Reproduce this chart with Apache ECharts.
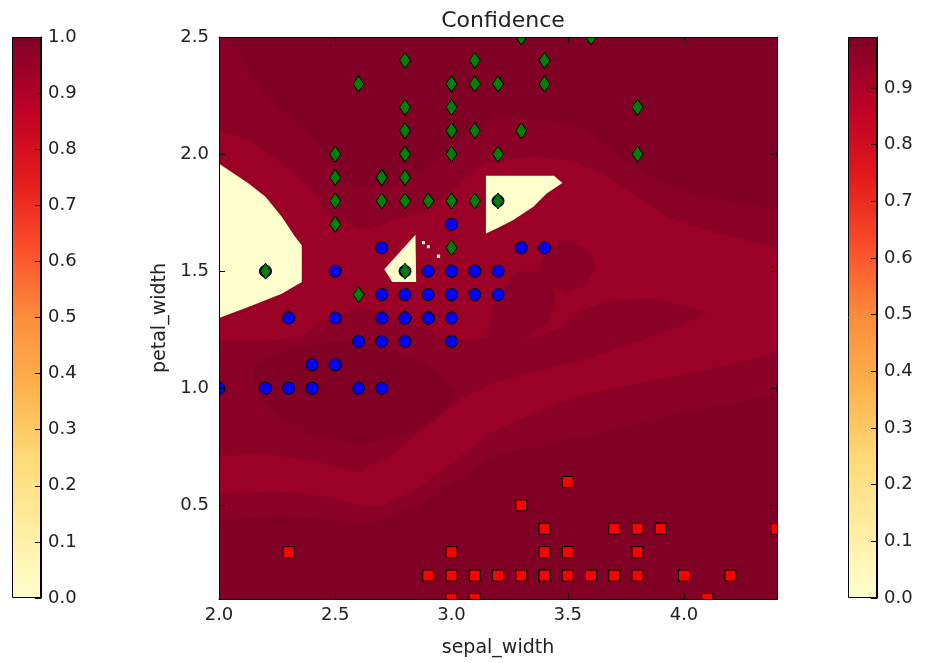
<!DOCTYPE html>
<html>
<head>
<meta charset="utf-8">
<script src="https://cdn.jsdelivr.net/npm/echarts@6/dist/echarts.min.js"></script>
<style>
  html, body { margin: 0; padding: 0; background: #fff; }
  #chart { width: 926px; height: 663px; }
</style>
</head>
<body>
<div id="chart"></div>
<script>
// axis ticks
const xTicks = [2.0, 2.5, 3.0, 3.5, 4.0];
const yTicks = [0.5, 1.0, 1.5, 2.0, 2.5];

// iris points [sepal_width, petal_width]
const setosa = [
  [3.5,0.2],[3.0,0.2],[3.2,0.2],[3.1,0.2],[3.6,0.2],[3.9,0.4],[3.4,0.3],[3.4,0.2],[2.9,0.2],[3.1,0.1],
  [3.7,0.2],[3.4,0.2],[3.0,0.1],[3.0,0.1],[4.0,0.2],[4.4,0.4],[3.9,0.4],[3.5,0.3],[3.8,0.3],[3.8,0.3],
  [3.4,0.2],[3.7,0.4],[3.6,0.2],[3.3,0.5],[3.4,0.2],[3.0,0.2],[3.4,0.4],[3.5,0.2],[3.4,0.2],[3.2,0.2],
  [3.1,0.2],[3.4,0.4],[4.1,0.1],[4.2,0.2],[3.1,0.1],[3.2,0.2],[3.5,0.2],[3.1,0.1],[3.0,0.2],[3.4,0.2],
  [3.5,0.3],[2.3,0.3],[3.2,0.2],[3.5,0.6],[3.8,0.4],[3.0,0.3],[3.8,0.2],[3.2,0.2],[3.7,0.2],[3.3,0.2]
];
const versicolor = [
  [3.2,1.4],[3.2,1.5],[3.1,1.5],[2.3,1.3],[2.8,1.5],[2.8,1.3],[3.3,1.6],[2.4,1.0],[2.9,1.3],[2.7,1.4],
  [2.0,1.0],[3.0,1.5],[2.2,1.0],[2.9,1.4],[2.9,1.3],[3.1,1.4],[3.0,1.5],[2.7,1.0],[2.2,1.5],[2.5,1.1],
  [3.2,1.8],[2.8,1.3],[2.5,1.5],[2.8,1.2],[2.9,1.3],[3.0,1.4],[2.8,1.4],[3.0,1.7],[2.9,1.5],[2.6,1.0],
  [2.4,1.1],[2.4,1.0],[2.7,1.2],[2.7,1.6],[3.0,1.5],[3.4,1.6],[3.1,1.5],[2.3,1.3],[3.0,1.3],[2.5,1.3],
  [2.6,1.2],[3.0,1.4],[2.6,1.2],[2.3,1.0],[2.7,1.3],[3.0,1.2],[2.9,1.3],[2.9,1.3],[2.5,1.1],[2.8,1.3]
];
const virginica = [
  [3.3,2.5],[2.7,1.9],[3.0,2.1],[2.9,1.8],[3.0,2.2],[3.0,2.1],[2.5,1.7],[2.9,1.8],[2.5,1.8],[3.6,2.5],
  [3.2,2.0],[2.7,1.9],[3.0,2.1],[2.5,2.0],[2.8,2.4],[3.2,2.3],[3.0,1.8],[3.8,2.2],[2.6,2.3],[2.2,1.5],
  [3.2,2.3],[2.8,2.0],[2.8,2.0],[2.7,1.8],[3.3,2.1],[3.2,1.8],[2.8,1.8],[3.0,1.8],[2.8,2.1],[3.0,1.6],
  [2.8,1.9],[3.8,2.0],[2.8,2.2],[2.8,1.5],[2.6,1.4],[3.0,2.3],[3.4,2.4],[3.1,1.8],[3.0,1.8],[3.1,2.1],
  [3.1,2.4],[3.1,2.3],[2.7,1.9],[3.2,2.3],[3.3,2.5],[3.0,2.3],[2.5,1.9],[3.0,2.0],[3.4,2.3],[3.0,1.8]
];

// confidence contour outlines [sepal_width, petal_width]
const midBand = [
  [2.0,2.5],[2.04,2.5],[2.2,2.245],[2.41,2.06],[2.47,1.96],[2.56,1.87],[2.7,1.86],[2.85,1.9],
  [2.95,1.98],[3.05,2.06],[3.19,2.16],[3.3,2.15],[3.45,2.14],[3.58,2.1],[3.7,2.0],[3.85,1.9],
  [4.07,1.82],[4.4,1.76],[4.4,0.98],[4.2,0.93],[4.0,0.9],[3.8,0.85],[3.6,0.8],[3.4,0.76],
  [3.2,0.72],[3.0,0.6],[2.85,0.5],[2.65,0.42],[2.45,0.44],[2.25,0.46],[2.0,0.43]
];
const lightBand = [
  [2.0,2.1],[2.13,2.06],[2.27,1.96],[2.4,1.85],[2.47,1.73],[2.63,1.675],[2.79,1.73],[2.9,1.76],
  [3.02,1.86],[3.14,1.96],[3.35,1.99],[3.52,1.97],[3.64,1.92],[3.93,1.73],[4.15,1.66],[4.4,1.6],
  [4.4,1.15],[4.2,1.1],[4.0,1.06],[3.8,1.02],[3.6,0.98],[3.45,0.93],[3.3,0.87],[3.15,0.8],
  [3.0,0.68],[2.85,0.57],[2.7,0.5],[2.6,0.5],[2.45,0.54],[2.25,0.56],[2.0,0.55],[2.0,0.71],
  [2.2,0.72],[2.4,0.69],[2.6,0.64],[2.75,0.72],[2.9,0.84],[3.05,0.96],[3.2,1.03],[3.4,1.08],
  [3.6,1.13],[3.8,1.2],[4.0,1.27],[4.1,1.32],[3.9,1.38],[3.7,1.38],[3.55,1.33],[3.45,1.25],
  [3.3,1.2],[3.15,1.22],[3.05,1.2],[2.9,1.25],[2.75,1.3],[2.6,1.35],[2.45,1.28],[2.35,1.22],
  [2.2,1.2],[2.0,1.2]
];
const midBlobA = [
  [3.38,1.52],[3.42,1.6],[3.5,1.63],[3.58,1.6],[3.62,1.52],[3.58,1.44],[3.5,1.41],[3.42,1.44]
];
const midBlobB = [
  [3.15,1.22],[3.2,1.4],[3.28,1.5],[3.4,1.5],[3.45,1.4],[3.42,1.28],[3.3,1.2]
];
const darkBlob = [
  [2.15,1.1],[2.3,1.17],[2.5,1.2],[2.7,1.18],[2.9,1.1],[3.02,0.98],[2.95,0.88],[2.8,0.8],
  [2.6,0.76],[2.4,0.8],[2.25,0.88],[2.15,1.0]
];
const paleLeft = [
  [2.0,1.96],[2.02,1.946],[2.126,1.875],[2.2,1.818],[2.27,1.732],[2.327,1.647],[2.356,1.611],
  [2.356,1.454],[2.27,1.404],[2.126,1.347],[2.0,1.3]
];
const paleMid = [[2.711,1.508],[2.845,1.656],[2.848,1.454],[2.745,1.454]];
const paleRight = [
  [3.148,1.907],[3.441,1.907],[3.477,1.877],[3.409,1.832],[3.352,1.775],[3.266,1.718],
  [3.194,1.682],[3.148,1.661]
];
const paleDots = [
  [[2.873,1.628],[2.886,1.628],[2.886,1.615],[2.873,1.615]],
  [[2.894,1.611],[2.907,1.611],[2.907,1.598],[2.894,1.598]],
  [[2.937,1.571],[2.951,1.571],[2.951,1.557],[2.937,1.557]]
];

const levelColor = { dark: '#800026', mid: '#8a0026', light: '#9b0026', pale: '#ffffcc' };
const contours = [
  ['mid', midBand], ['light', lightBand], ['mid', midBlobA], ['mid', midBlobB],
  ['dark', darkBlob], ['pale', paleLeft], ['pale', paleMid], ['pale', paleRight]
].concat(paleDots.map(d => ['pale', d]));

const ylorrd = [
  { offset: 0, color: '#800026' }, { offset: 0.125, color: '#bd0026' },
  { offset: 0.25, color: '#e31a1c' }, { offset: 0.375, color: '#fc4e2a' },
  { offset: 0.5, color: '#fd8d3c' }, { offset: 0.625, color: '#feb24c' },
  { offset: 0.75, color: '#fed976' }, { offset: 0.875, color: '#ffeda0' },
  { offset: 1, color: '#ffffcc' }
];
const leftBarMax = 1.0;
const rightBarMax = 0.99;

const chart = echarts.init(document.getElementById('chart'));
const txt = '#222';
const font = 'DejaVu Sans';

function plotAxis(pos, ticks, isX, withLabel) {
  const ax = {
    gridIndex: 0,
    type: 'value',
    position: pos,
    min: isX ? 2.0 : 0.1,
    max: isX ? 4.4 : 2.5,
    z: 10,
    axisLine: { show: true, onZero: false, lineStyle: { color: '#000', width: 1 } },
    axisTick: { show: true, inside: true, length: 6, customValues: ticks, lineStyle: { color: '#000' } },
    axisLabel: {
      show: withLabel, customValues: ticks, formatter: v => v.toFixed(1),
      fontSize: 18, color: txt, fontFamily: font, margin: isX ? 7 : 10
    },
    splitLine: { show: false }
  };
  return ax;
}

function barAxis(gridIndex, max) {
  return {
    gridIndex, type: 'value', position: 'right', min: 0, max, interval: 0.1, z: 10,
    axisLine: { show: true, lineStyle: { color: '#000' } },
    axisTick: { show: true, inside: true, length: 6, lineStyle: { color: '#000' } },
    axisLabel: {
      fontSize: 18, color: txt, fontFamily: font, margin: 7,
      showMaxLabel: max === 1.0, formatter: v => v.toFixed(1)
    },
    splitLine: { show: false }
  };
}

function pointSeries(name, data, z, draw) {
  return {
    name, type: 'custom', xAxisIndex: 0, yAxisIndex: 0, clip: true, z,
    data,
    renderItem: (params, api) => draw(api.coord([api.value(0), api.value(1)]))
  };
}

const edge = { stroke: '#000', lineWidth: 1 };

const xAx0 = plotAxis('bottom', xTicks, true, true);
xAx0.name = 'sepal_width';
xAx0.nameLocation = 'middle';
xAx0.nameGap = 40;
xAx0.nameTextStyle = { fontSize: 19, color: txt, fontFamily: font };
const yAx0 = plotAxis('left', yTicks, false, true);
yAx0.name = 'petal_width';
yAx0.nameLocation = 'middle';
yAx0.nameGap = 48;
yAx0.nameTextStyle = { fontSize: 19, color: txt, fontFamily: font };

const option = {
  animation: false,
  backgroundColor: '#fff',
  textStyle: { fontFamily: font },
  title: {
    text: 'Confidence', left: 498, top: 5, textAlign: 'center',
    textStyle: { fontSize: 22, fontWeight: 'normal', color: txt, fontFamily: font }
  },
  grid: [
    { left: 219, right: 149, top: 37, bottom: 63, show: true, backgroundColor: levelColor.dark, borderWidth: 0 },
    { left: 12, width: 29, top: 37, bottom: 65 },
    { left: 848, width: 29, top: 37, bottom: 65 }
  ],
  xAxis: [
    xAx0,
    plotAxis('top', xTicks, true, false),
    { gridIndex: 1, type: 'category', data: ['c'], show: false },
    { gridIndex: 2, type: 'category', data: ['c'], show: false }
  ],
  yAxis: [
    yAx0,
    plotAxis('right', yTicks, false, false),
    barAxis(1, leftBarMax),
    barAxis(2, rightBarMax)
  ],
  series: [
    {
      type: 'custom', xAxisIndex: 0, yAxisIndex: 0, clip: true, z: 1,
      data: contours.map(c => c[1][0]),
      renderItem: (params, api) => {
        const c = contours[params.dataIndex];
        return {
          type: 'polygon', z2: params.dataIndex,
          shape: { points: c[1].map(p => api.coord(p)) },
          style: { fill: levelColor[c[0]] }
        };
      }
    },
    pointSeries('setosa', setosa, 3, p => ({
      type: 'rect', shape: { x: p[0] - 5.5, y: p[1] - 5.5, width: 11, height: 11 },
      style: Object.assign({ fill: '#ff0000' }, edge)
    })),
    pointSeries('versicolor', versicolor, 4, p => ({
      type: 'circle', shape: { cx: p[0], cy: p[1], r: 6 },
      style: Object.assign({ fill: '#0000ff' }, edge)
    })),
    pointSeries('virginica', virginica, 5, p => ({
      type: 'polygon',
      shape: { points: [[p[0], p[1] - 8], [p[0] + 5.5, p[1]], [p[0], p[1] + 8], [p[0] - 5.5, p[1]]] },
      style: Object.assign({ fill: '#008000' }, edge)
    })),
    {
      type: 'bar', xAxisIndex: 2, yAxisIndex: 2, data: [leftBarMax], barWidth: '100%',
      itemStyle: { color: new echarts.graphic.LinearGradient(0, 0, 0, 1, ylorrd), borderColor: '#000', borderWidth: 1 }
    },
    {
      type: 'bar', xAxisIndex: 3, yAxisIndex: 3, data: [rightBarMax], barWidth: '100%',
      itemStyle: { color: new echarts.graphic.LinearGradient(0, 0, 0, 1, ylorrd), borderColor: '#000', borderWidth: 1 }
    }
  ]
};

chart.setOption(option);
</script>
</body>
</html>
